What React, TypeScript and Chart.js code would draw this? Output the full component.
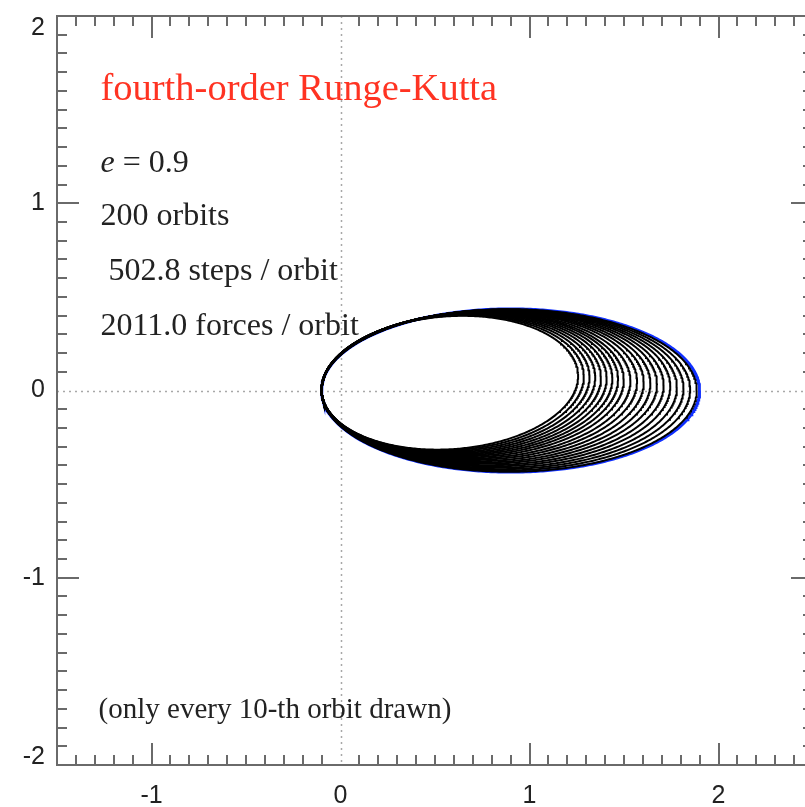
import React, { useEffect, useRef } from "react";
import { Chart, registerables } from "chart.js";

Chart.register(...registerables);

// ---- axes ----
const xRange = [-1.5, 2.5];
const yRange = [-2, 2];
const xTickValues = [-1, 0, 1, 2];
const yTickValues = [-2, -1, 0, 1, 2];

// ---- orbit data ----
const trueApoapsis = 1.9; // blue: exact Kepler orbit, e = 0.9, a = 1
const periapsisDistance = 0.1;
const drawnOrbitNumbers = [0, 10, 20, 30, 40, 50, 60, 70, 80, 90, 100, 110, 120, 130, 140, 150, 160, 170, 180, 190];
const orbitApoapsis = [1.885, 1.85, 1.815, 1.78, 1.745, 1.71, 1.675, 1.64, 1.605, 1.57, 1.535, 1.5, 1.47, 1.44, 1.41, 1.38, 1.35, 1.32, 1.29, 1.26];
const orbitRotationDeg = [0, 0.2, 0.4, 0.6, 0.85, 1.05, 1.3, 1.5, 1.75, 2.0, 2.2, 2.45, 2.7, 2.9, 3.1, 3.3, 3.5, 3.7, 3.9, 4.1];

// ---- annotation text ----
const titleText = "fourth-order Runge-Kutta";
const eccText = ["e", " = 0.9"];
const infoLines = ["200 orbits", " 502.8 steps / orbit", "2011.0 forces / orbit"];
const noteText = "(only every 10-th orbit drawn)";

// Kepler ellipse with focus at the origin, periapsis q on -x side, apoapsis Q on +x side, rotated by rot
function orbitCurve(Q: number, q: number, rotDeg: number) {
  const a = (Q + q) / 2;
  const c = (Q - q) / 2;
  const b = Math.sqrt(a * a - c * c);
  const r = (rotDeg * Math.PI) / 180;
  const cr = Math.cos(r);
  const sr = Math.sin(r);
  const pts: { x: number; y: number }[] = [];
  const n = 480;
  for (let i = 0; i <= n; i++) {
    const t = (i / n) * Math.PI * 2;
    const x0 = c + a * Math.cos(t);
    const y0 = b * Math.sin(t);
    pts.push({ x: x0 * cr - y0 * sr, y: x0 * sr + y0 * cr });
  }
  return pts;
}

const FRAME = "#6a6a6a";
const LABEL_FONT = "25px 'Liberation Sans'";

const framePlugin = {
  id: "idlFrame",
  beforeDatasetsDraw(chart: any) {
    const { ctx, chartArea: ca, scales } = chart;
    const xs = scales.x;
    const ys = scales.y;
    ctx.save();
    ctx.strokeStyle = "#a8a8a8";
    ctx.lineWidth = 1.5;
    ctx.setLineDash([2, 4]);
    const x0 = Math.round(xs.getPixelForValue(0)) + 0.5;
    const y0 = Math.round(ys.getPixelForValue(0)) + 0.5;
    ctx.beginPath();
    ctx.moveTo(x0, ca.top);
    ctx.lineTo(x0, ca.bottom);
    ctx.moveTo(ca.left, y0);
    ctx.lineTo(ca.right, y0);
    ctx.stroke();
    ctx.restore();
  },
  afterDatasetsDraw(chart: any) {
    const { ctx, chartArea: ca, scales } = chart;
    const xs = scales.x;
    const ys = scales.y;
    ctx.save();
    ctx.strokeStyle = FRAME;
    ctx.lineWidth = 2;
    ctx.strokeRect(ca.left, ca.top, ca.right - ca.left, ca.bottom - ca.top);
    ctx.beginPath();
    // x ticks (top & bottom)
    for (let i = -15; i <= 25; i++) {
      const v = i / 10;
      if (v <= xRange[0] || v >= xRange[1]) continue;
      const major = i % 10 === 0;
      if (major && i === 0) continue;
      const len = major ? 22 : 10;
      const px = Math.round(xs.getPixelForValue(v));
      ctx.moveTo(px, ca.bottom);
      ctx.lineTo(px, ca.bottom - len);
      ctx.moveTo(px, ca.top);
      ctx.lineTo(px, ca.top + len);
    }
    // y ticks (left & right)
    for (let i = -20; i <= 20; i++) {
      const v = i / 10;
      if (v <= yRange[0] || v >= yRange[1]) continue;
      const major = i % 10 === 0;
      if (major && i === 0) continue;
      const len = major ? 22 : 10;
      const py = Math.round(ys.getPixelForValue(v));
      ctx.moveTo(ca.left, py);
      ctx.lineTo(ca.left + len, py);
      ctx.moveTo(ca.right, py);
      ctx.lineTo(ca.right - len, py);
    }
    ctx.stroke();
    ctx.restore();
  },
  afterDraw(chart: any) {
    const { ctx, chartArea: ca, scales } = chart;
    const xs = scales.x;
    const ys = scales.y;
    ctx.save();

    // y tick labels (end labels kept inside the frame, as in the original)
    ctx.font = LABEL_FONT;
    ctx.fillStyle = "#222";
    ctx.textAlign = "right";
    ctx.textBaseline = "middle";
    yTickValues.forEach((v) => {
      let py = ys.getPixelForValue(v);
      py = Math.min(Math.max(py, ca.top + 12), ca.bottom - 8);
      ctx.fillText(String(v), ca.left - 12, py);
    });

    const left = xs.getPixelForValue(-1.27);
    ctx.textBaseline = "alphabetic";
    ctx.textAlign = "left";
    ctx.fillStyle = "#ff3322";
    ctx.font = "38.5px 'Liberation Serif'";
    ctx.fillText(titleText, left, ys.getPixelForValue(1.551));

    ctx.fillStyle = "#222";
    const ey = ys.getPixelForValue(1.167);
    ctx.font = "italic 32px 'Liberation Serif'";
    ctx.fillText(eccText[0], left, ey);
    const ew = ctx.measureText(eccText[0]).width;
    ctx.font = "32px 'Liberation Serif'";
    ctx.fillText(eccText[1], left + ew, ey);

    const lineYs = [0.884, 0.59, 0.296];
    infoLines.forEach((t, i) => ctx.fillText(t, left, ys.getPixelForValue(lineYs[i])));

    ctx.font = "29px 'Liberation Serif'";
    ctx.fillText(noteText, xs.getPixelForValue(-1.28), ys.getPixelForValue(-1.749));
    ctx.restore();
  },
};

export default function App() {
  const ref = useRef<HTMLCanvasElement | null>(null);
  useEffect(() => {
    if (!ref.current) return;
    const datasets: any[] = drawnOrbitNumbers.map((n, i) => ({
      label: "orbit " + n,
      data: orbitCurve(orbitApoapsis[i], periapsisDistance, orbitRotationDeg[i]),
      borderColor: "#000000",
      borderWidth: 2,
      pointRadius: 0,
      tension: 0,
      fill: false,
    }));
    datasets.push({
      label: "exact orbit",
      data: orbitCurve(trueApoapsis, periapsisDistance, 0),
      borderColor: "#1030ff",
      borderWidth: 3,
      pointRadius: 0,
      tension: 0,
      fill: false,
    });
    const chart = new Chart(ref.current, {
      type: "line",
      data: { datasets },
      options: {
        animation: false,
        responsive: false,
        devicePixelRatio: 1,
        events: [],
        parsing: false,
        normalized: true,
        layout: { padding: { top: 16, right: 1, left: 0, bottom: 0 } },
        plugins: { legend: { display: false }, tooltip: { enabled: false } },
        scales: {
          x: {
            type: "linear",
            min: xRange[0],
            max: xRange[1],
            afterBuildTicks: (s: any) => {
              s.ticks = xTickValues.map((v) => ({ value: v }));
            },
            afterFit: (s: any) => {
              s.height = 42;
              s.paddingLeft = 0;
              s.paddingRight = 0;
            },
            grid: { display: false, drawTicks: false },
            border: { display: false },
            ticks: {
              autoSkip: false,
              maxRotation: 0,
              padding: 16,
              color: "#222",
              font: { family: "'Liberation Sans'", size: 25 },
              callback: (v: any) => String(v),
            },
          },
          y: {
            type: "linear",
            min: yRange[0],
            max: yRange[1],
            afterBuildTicks: (s: any) => {
              s.ticks = yTickValues.map((v) => ({ value: v }));
            },
            afterFit: (s: any) => {
              s.width = 57;
              s.paddingTop = 0;
              s.paddingBottom = 0;
            },
            grid: { display: false, drawTicks: false },
            border: { display: false },
            ticks: { display: false },
          },
        },
      } as any,
      plugins: [framePlugin],
    });
    return () => chart.destroy();
  }, []);
  return (
    <div style={{ position: "fixed", left: 0, top: 0, width: 805, height: 807, overflow: "hidden", background: "#fff" }}>
      <canvas ref={ref} width={814} height={807} style={{ display: "block", width: 814, height: 807 }} />
    </div>
  );
}
